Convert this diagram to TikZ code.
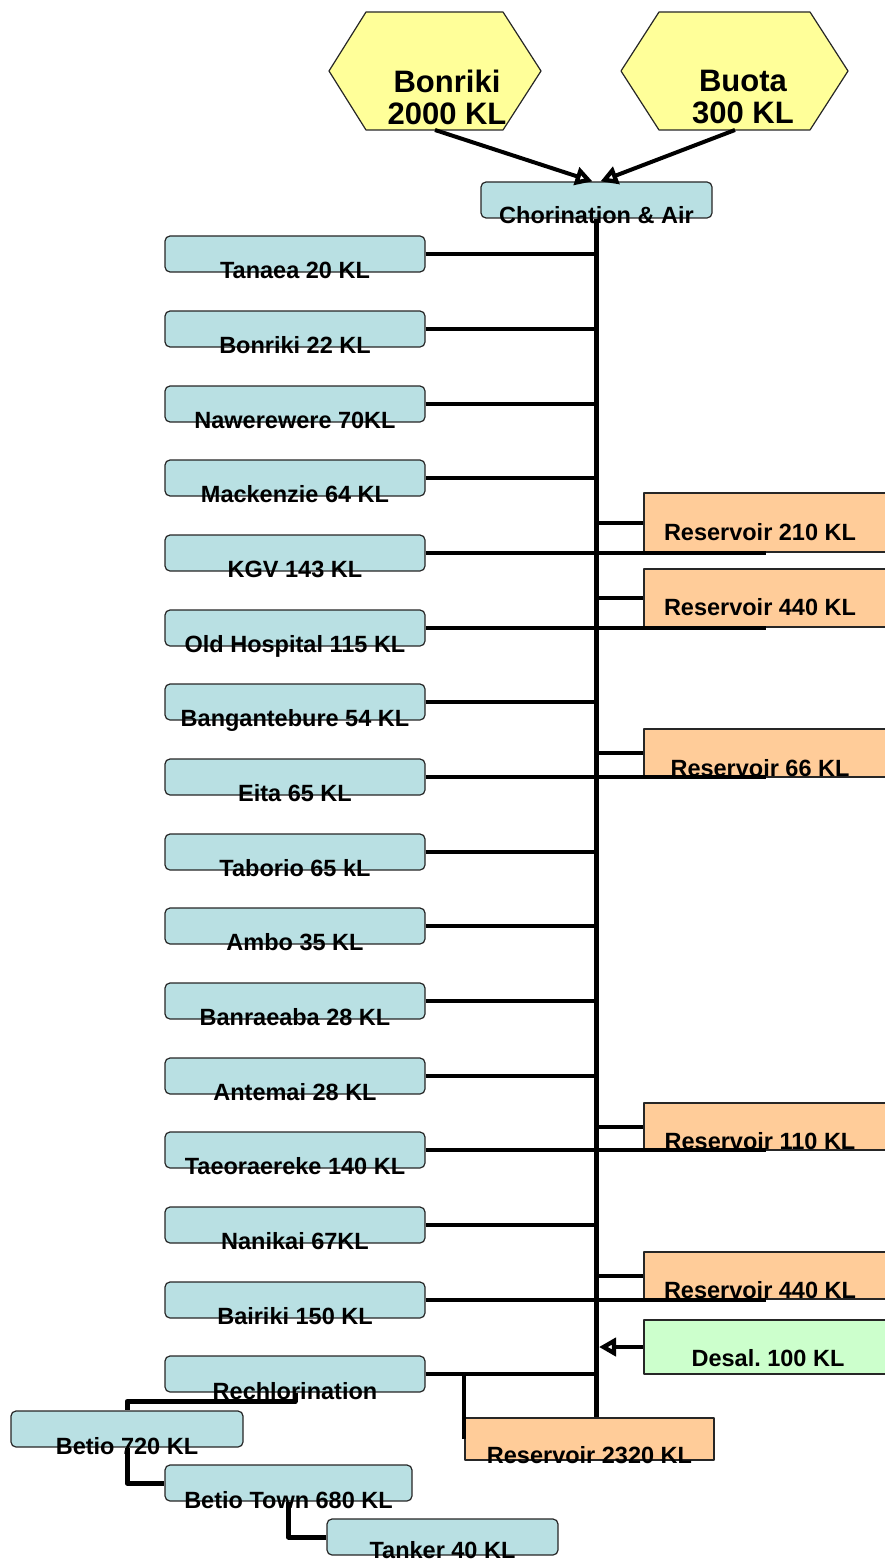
\documentclass[tikz,border=0pt]{standalone}
\usepackage{fontspec}
\setmainfont{Liberation Sans}
\usetikzlibrary{arrows.meta}

\definecolor{tankblue}{RGB}{185,224,227}
\definecolor{resorange}{RGB}{255,204,153}
\definecolor{desalgreen}{RGB}{204,255,204}
\definecolor{srcyellow}{RGB}{255,255,153}

\begin{document}
\begin{tikzpicture}[x=1pt, y=-1pt, line join=round,
  tank/.style={draw=black!85, line width=1.2pt, fill=tankblue, rounded corners=5pt,
    minimum width=260pt, minimum height=36pt, inner sep=0pt},
  res/.style={draw=black!85, line width=1.2pt, fill=resorange,
    minimum width=244pt, inner sep=0pt},
  txt/.style={font=\bfseries\fontsize{23.5}{26}\selectfont, inner sep=0pt, anchor=base},
  tanklbl/.style={txt, yshift=-6pt},
  reslbl/.style={txt, xshift=-6pt},
  pipe/.style={line width=4pt},
  trunk/.style={line width=5pt},
  flow/.style={line width=4pt, -{Triangle[open, length=17pt, width=18pt, line width=4.5pt]}},
]
\useasboundingbox (0,0) rectangle (884,1562);

%-----------------------
% 水源：两个六边形
%-----------------------
\draw[fill=srcyellow, draw=black!85, line width=1.2pt]
  (329,71) -- (366,12) -- (503,12) -- (541,71) -- (503,130) -- (366,130) -- cycle;
\draw[fill=srcyellow, draw=black!85, line width=1.2pt]
  (621,71) -- (659,12) -- (810,12) -- (848,71) -- (810,130) -- (659,130) -- cycle;
\node[align=center, font=\bfseries\fontsize{31}{32}\selectfont, inner sep=0pt] (bonriki) at (447,97) {Bonriki\\2000 KL};
\node[align=center, font=\bfseries\fontsize{31}{32}\selectfont, inner sep=0pt] (buota) at (743,97) {Buota\\300 KL};
\coordinate (bonout) at (435,130);
\coordinate (buoout) at (735,130);

%-----------------------
% 加氯站与主干管
%-----------------------
\node[tank, minimum width=231pt, label={[txt, yshift=-5pt]south:{Chorination \& Air}}] (chor) at (596.5,200) {};

\draw[flow] (bonout) -- ([xshift=-4pt]chor.north);
\draw[flow] (buoout) -- ([xshift=4pt]chor.north);

%-----------------------
% 左侧水箱
%-----------------------
\node[tank, label={[tanklbl]south:{Tanaea 20 KL}}]        (tanaea) at (295,254) {};
\node[tank, label={[tanklbl]south:{Bonriki 22 KL}}]       (bonr)   at (295,329) {};
\node[tank, label={[tanklbl]south:{Nawerewere 70KL}}]     (nawe)   at (295,404) {};
\node[tank, label={[tanklbl]south:{Mackenzie 64 KL}}]     (mack)   at (295,478) {};
\node[tank, label={[tanklbl]south:{KGV 143 KL}}]          (kgv)    at (295,553) {};
\node[tank, label={[tanklbl]south:{Old Hospital 115 KL}}] (oldh)   at (295,628) {};
\node[tank, label={[tanklbl]south:{Bangantebure 54 KL}}]  (bang)   at (295,702) {};
\node[tank, label={[tanklbl]south:{Eita 65 KL}}]          (eita)   at (295,777) {};
\node[tank, label={[tanklbl]south:{Taborio 65 kL}}]       (tabo)   at (295,852) {};
\node[tank, label={[tanklbl]south:{Ambo 35 KL}}]          (ambo)   at (295,926) {};
\node[tank, label={[tanklbl]south:{Banraeaba 28 KL}}]     (banr)   at (295,1001) {};
\node[tank, label={[tanklbl]south:{Antemai 28 KL}}]       (ante)   at (295,1076) {};
\node[tank, label={[tanklbl]south:{Taeoraereke 140 KL}}]  (taeo)   at (295,1150) {};
\node[tank, label={[tanklbl]south:{Nanikai 67KL}}]        (nani)   at (295,1225) {};
\node[tank, label={[tanklbl]south:{Bairiki 150 KL}}]      (bair)   at (295,1300) {};
\node[tank, label={[tanklbl, yshift=-1pt]south:{Rechlorination}}] (rechl) at (295,1374) {};

%-----------------------
% 右侧水库与淡化厂
%-----------------------
\node[res, minimum height=59pt, label={[reslbl, yshift=12pt]south:{Reservoir 210 KL}}] (res210)  at (766,522.5) {};
\node[res, minimum height=58pt, label={[reslbl, yshift=12pt]south:{Reservoir 440 KL}}] (res440a) at (766,598) {};
\node[res, minimum height=48pt, label={[reslbl, yshift=1pt]south:{Reservoir 66 KL}}]   (res66)   at (766,753) {};
\node[res, minimum height=47pt, label={[reslbl, yshift=1pt]south:{Reservoir 110 KL}}]  (res110)  at (766,1126.5) {};
\node[res, minimum height=47pt, label={[reslbl, yshift=1pt]south:{Reservoir 440 KL}}]  (res440b) at (766,1275.5) {};
\node[res, fill=desalgreen, minimum height=54pt, label={[txt, xshift=2pt, yshift=8pt]south:{Desal.\ 100 KL}}] (desal) at (766,1347) {};
\node[res, minimum width=249pt, minimum height=42pt, label={[txt, yshift=-3pt]south:{Reservoir 2320 KL}}] (res2320) at (589.5,1439) {};

%-----------------------
% 主干管与支管
%-----------------------
\draw[trunk] (chor.south) -- (chor.south |- res2320.north);

\draw[pipe] (tanaea.east) -- (tanaea.east -| chor.south);
\draw[pipe] (bonr.east)   -- (bonr.east -| chor.south);
\draw[pipe] (nawe.east)   -- (nawe.east -| chor.south);
\draw[pipe] (mack.east)   -- (mack.east -| chor.south);
\draw[pipe] (kgv.east)    -- (kgv.east -| res210.south);
\draw[pipe] (oldh.east)   -- (oldh.east -| res440a.south);
\draw[pipe] (bang.east)   -- (bang.east -| chor.south);
\draw[pipe] (eita.east)   -- (eita.east -| res66.south);
\draw[pipe] (tabo.east)   -- (tabo.east -| chor.south);
\draw[pipe] (ambo.east)   -- (ambo.east -| chor.south);
\draw[pipe] (banr.east)   -- (banr.east -| chor.south);
\draw[pipe] (ante.east)   -- (ante.east -| chor.south);
\draw[pipe] (taeo.east)   -- (taeo.east -| res110.south);
\draw[pipe] (nani.east)   -- (nani.east -| chor.south);
\draw[pipe] (bair.east)   -- (bair.east -| res440b.south);
\draw[pipe] (rechl.east)  -- (rechl.east -| chor.south);

% 水库短管
\draw[pipe] (res210.west)  -- (res210.west -| chor.south);
\draw[pipe] (res440a.west) -- (res440a.west -| chor.south);
\draw[pipe] (res66.west)   -- (res66.west -| chor.south);
\draw[pipe] (res110.west)  -- (res110.west -| chor.south);
\draw[pipe] (res440b.west) -- (res440b.west -| chor.south);
\draw[flow, shorten >=2.5pt] (desal.west) -- (desal.west -| chor.south);
\draw[pipe] (rechl.east -| res2320.west) -- (res2320.west);

%-----------------------
% Betio 方向
%-----------------------
\node[tank, minimum width=232pt, label={[tanklbl, yshift=-1pt]south:{Betio 720 KL}}]      (betio)  at (127,1429) {};
\node[tank, minimum width=247pt, label={[tanklbl, yshift=-1pt]south:{Betio Town 680 KL}}] (btown)  at (288.5,1483) {};
\node[tank, minimum width=231pt, label={[tanklbl, yshift=3pt]south:{Tanker 40 KL}}]       (tanker) at (442.5,1537) {};

\draw[trunk] (rechl.south) -- ++(0,9) -| (betio.north);
\draw[trunk] (betio.south) |- (btown.west);
\draw[trunk] (btown.south) |- (tanker.west);

\end{tikzpicture}
\end{document}
